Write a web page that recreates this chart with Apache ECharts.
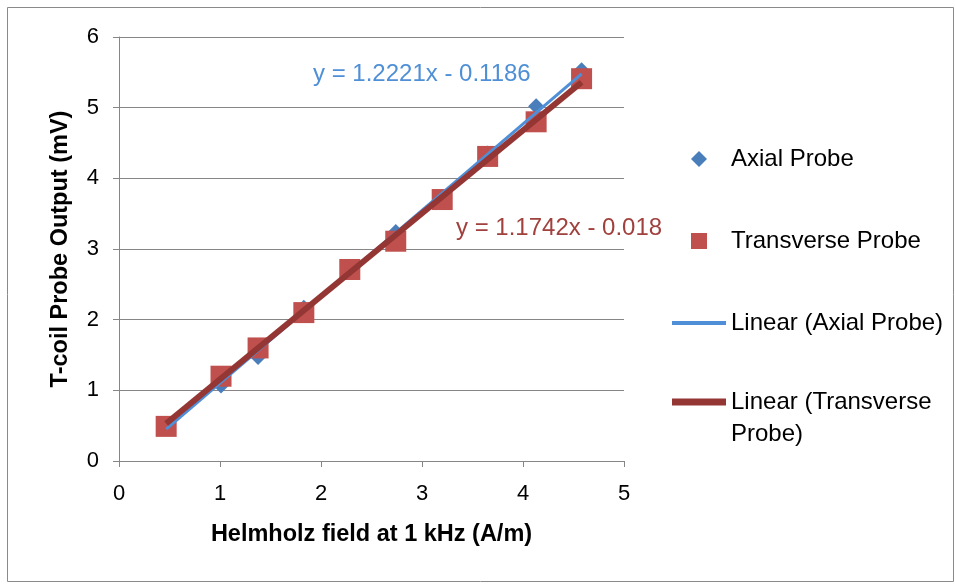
<!DOCTYPE html>
<html>
<head>
<meta charset="utf-8">
<script src="https://cdn.jsdelivr.net/npm/echarts@6/dist/echarts.min.js"></script>
<style>
html,body{margin:0;padding:0;background:#fff;}
#chart{width:955px;height:584px;}
</style>
</head>
<body>
<div id="chart"></div>
<script>
// ---- data ----
var fieldValues = [0.467, 1.01, 1.377, 1.83, 2.285, 2.74, 3.2, 3.65, 4.13, 4.58];
var axialValues = [0.50, 1.07, 1.47, 2.17, 2.75, 3.24, 3.73, 4.35, 5.02, 5.53];
var transverseValues = [0.49, 1.20, 1.60, 2.10, 2.71, 3.11, 3.70, 4.31, 4.80, 5.41];
var seriesNames = ['Axial Probe', 'Transverse Probe', 'Linear (Axial Probe)', 'Linear (Transverse Probe)'];
var trendSlopes = [1.2221, 1.1742];
var trendIntercepts = [-0.1186, -0.018];
var equationLabels = ['y = 1.2221x - 0.1186', 'y = 1.1742x - 0.018'];
var xTicks = [0, 1, 2, 3, 4, 5];
var yTicks = [0, 1, 2, 3, 4, 5, 6];
var xTitle = 'Helmholz field at 1 kHz (A/m)';
var yTitle = 'T-coil Probe Output (mV)';

function pairs(xs, ys) { return xs.map(function (x, i) { return [x, ys[i]]; }); }
function trend(k) {
  var x0 = Math.min.apply(null, fieldValues), x1 = Math.max.apply(null, fieldValues);
  return [[x0, trendSlopes[k] * x0 + trendIntercepts[k]], [x1, trendSlopes[k] * x1 + trendIntercepts[k]]];
}

var FONT = '"Liberation Sans", Arial, sans-serif';
var GRAY = '#868686';
var BLUE_MARK = '#4A7EBB', RED_MARK = '#C0504D', BLUE_LINE = '#4F8FD8', RED_LINE = '#933634';
var chart = echarts.init(document.getElementById('chart'), null, {renderer: 'canvas'});
chart.setOption({
  animation: false,
  backgroundColor: '#fff',
  textStyle: {fontFamily: FONT},
  grid: {left: 119, right: 331, top: 37, bottom: 123, containLabel: false},
  xAxis: {
    type: 'value', min: xTicks[0], max: xTicks[xTicks.length - 1], interval: 1,
    name: xTitle, nameLocation: 'middle', nameGap: 62,
    nameTextStyle: {fontFamily: FONT, fontSize: 23.5, fontWeight: 'bold', color: '#000'},
    axisLine: {show: true, onZero: false, lineStyle: {color: GRAY, width: 1}},
    axisTick: {show: true, inside: false, length: 6, lineStyle: {color: GRAY}},
    axisLabel: {margin: 22, fontSize: 22, color: '#000', fontFamily: FONT},
    splitLine: {show: false}
  },
  yAxis: {
    type: 'value', min: yTicks[0], max: yTicks[yTicks.length - 1], interval: 1,
    name: yTitle, nameLocation: 'middle', nameGap: 46, nameRotate: 90,
    nameTextStyle: {fontFamily: FONT, fontSize: 23.5, fontWeight: 'bold', color: '#000'},
    axisLine: {show: true, onZero: false, lineStyle: {color: GRAY, width: 1}},
    axisTick: {show: true, inside: false, length: 6, lineStyle: {color: GRAY}},
    axisLabel: {margin: 20, fontSize: 22, color: '#000', fontFamily: FONT},
    splitLine: {show: true, lineStyle: {color: GRAY, width: 1}}
  },
  legend: [{
    orient: 'vertical', left: 667, top: 142,
    itemWidth: 54, itemHeight: 16, itemGap: 58,
    data: [
      {name: seriesNames[0], icon: 'path://M7,0L14,7L7,14L0,7Z', itemStyle: {color: BLUE_MARK, opacity: 1}},
      {name: seriesNames[1], icon: 'path://M0,0L16,0L16,16L0,16Z', itemStyle: {color: RED_MARK, opacity: 1}},
      {name: seriesNames[2], icon: 'path://M0,0L54,0L54,4L0,4Z', itemStyle: {color: BLUE_LINE}}
    ],
    textStyle: {fontFamily: FONT, fontSize: 24, color: '#000', lineHeight: 22},
    selectedMode: false
  }, {
    orient: 'vertical', left: 667, top: 349,
    itemWidth: 54, itemHeight: 16,
    data: [
      {name: seriesNames[3], icon: 'path://M0,0L54,0L54,7L0,7Z', itemStyle: {color: RED_LINE}}
    ],
    formatter: function () { return ' \nLinear (Transverse\nProbe)'; },
    textStyle: {fontFamily: FONT, fontSize: 24, color: '#000', lineHeight: 32},
    selectedMode: false
  }],
  graphic: [
    {type: 'rect', silent: true, shape: {x: 7.5, y: 7.5, width: 946, height: 574},
     style: {fill: 'none', stroke: '#8a8a8a', lineWidth: 1}},
    {type: 'text', left: 313, top: 62, silent: true,
     style: {text: equationLabels[0], fill: '#4F8FD6', font: '24px ' + FONT}},
    {type: 'text', left: 456, top: 216, silent: true,
     style: {text: equationLabels[1], fill: '#A0413E', font: '24px ' + FONT}}
  ],
  series: [
    {name: seriesNames[0], type: 'scatter', symbol: 'diamond', symbolSize: 16,
     itemStyle: {color: BLUE_MARK, opacity: 1}, data: pairs(fieldValues, axialValues), z: 2},
    {name: seriesNames[1], type: 'scatter', symbol: 'rect', symbolSize: 21,
     itemStyle: {color: RED_MARK, opacity: 1}, data: pairs(fieldValues, transverseValues), z: 3},
    {name: seriesNames[2], type: 'line', symbol: 'none', showSymbol: false,
     lineStyle: {color: BLUE_LINE, width: 3}, itemStyle: {color: BLUE_LINE},
     data: trend(0), z: 4},
    {name: seriesNames[3], type: 'line', symbol: 'none', showSymbol: false,
     lineStyle: {color: RED_LINE, width: 6}, itemStyle: {color: RED_LINE},
     data: trend(1), z: 5}
  ]
});
</script>
</body>
</html>
